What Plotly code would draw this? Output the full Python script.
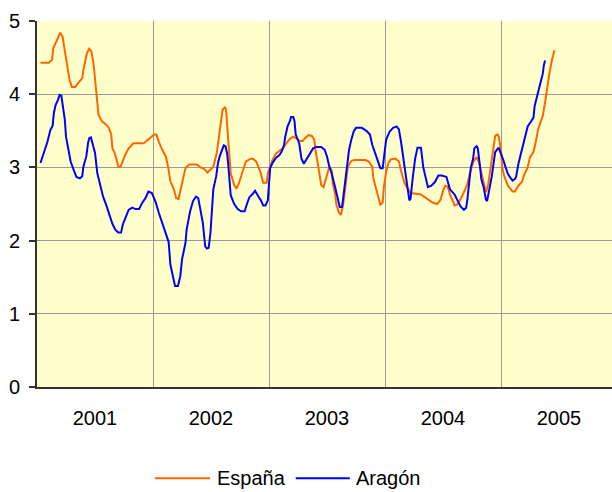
import numpy as np
import plotly.graph_objects as go

# time axis in years measured from the start of 2001
espana_t = [
    0.03, 0.10, 0.13, 0.14, 0.17, 0.19, 0.20, 0.22,
    0.24, 0.26, 0.28, 0.30, 0.33, 0.36, 0.39, 0.40,
    0.415, 0.43, 0.45, 0.47, 0.49, 0.50, 0.52, 0.53,
    0.56, 0.60, 0.62, 0.64, 0.65, 0.67, 0.69, 0.70,
    0.72, 0.74, 0.76, 0.79, 0.83, 0.86, 0.92, 0.96,
    1.01, 1.03, 1.05, 1.08, 1.11, 1.13, 1.15, 1.18,
    1.20, 1.22, 1.24, 1.26, 1.28, 1.31, 1.38, 1.41,
    1.44, 1.47, 1.49, 1.52, 1.55, 1.57, 1.58, 1.60,
    1.62, 1.63, 1.64, 1.65, 1.67, 1.70, 1.72, 1.74,
    1.76, 1.78, 1.80, 1.83, 1.86, 1.89, 1.91, 1.93,
    1.95, 1.98, 1.99, 2.01, 2.03, 2.06, 2.09, 2.12,
    2.15, 2.18, 2.21, 2.24, 2.27, 2.29, 2.31, 2.34,
    2.37, 2.39, 2.40, 2.42, 2.44, 2.45, 2.47, 2.49,
    2.51, 2.52, 2.54, 2.55, 2.57, 2.58, 2.60, 2.62,
    2.64, 2.66, 2.68, 2.71, 2.74, 2.83, 2.86, 2.89,
    2.90, 2.92, 2.94, 2.96, 2.98, 2.99, 3.01, 3.03,
    3.05, 3.09, 3.12, 3.14, 3.17, 3.20, 3.22, 3.31,
    3.37, 3.41, 3.45, 3.48, 3.50, 3.52, 3.54, 3.56,
    3.58, 3.60, 3.62, 3.65, 3.68, 3.71, 3.73, 3.76,
    3.79, 3.81, 3.83, 3.85, 3.87, 3.89, 3.91, 3.93,
    3.95, 3.97, 3.98, 4.00, 4.01, 4.03, 4.06, 4.10,
    4.12, 4.15, 4.18, 4.20, 4.23, 4.25, 4.28, 4.30,
    4.32, 4.35, 4.36, 4.38, 4.40, 4.42, 4.44, 4.46,
]
espana = [
    4.43, 4.43, 4.47, 4.63, 4.73, 4.81, 4.84, 4.79,
    4.60, 4.40, 4.20, 4.10, 4.10, 4.16, 4.22, 4.33,
    4.47, 4.56, 4.62, 4.58, 4.38, 4.20, 3.83, 3.72,
    3.63, 3.58, 3.54, 3.45, 3.26, 3.20, 3.08, 3.01,
    3.01, 3.10, 3.17, 3.26, 3.33, 3.33, 3.33, 3.38,
    3.45, 3.45, 3.35, 3.24, 3.15, 3.01, 2.81, 2.70,
    2.58, 2.57, 2.72, 2.83, 2.99, 3.04, 3.04, 3.00,
    2.98, 2.93, 2.96, 3.01, 3.20, 3.42, 3.60, 3.79,
    3.82, 3.79, 3.56, 3.29, 2.92, 2.76, 2.71, 2.78,
    2.89, 2.99, 3.08, 3.11, 3.12, 3.08, 2.99, 2.92,
    2.79, 2.79, 2.92, 3.01, 3.10, 3.19, 3.22, 3.26,
    3.33, 3.39, 3.42, 3.39, 3.36, 3.36, 3.40, 3.44,
    3.43, 3.38, 3.24, 3.06, 2.87, 2.76, 2.73, 2.85,
    2.99, 3.01, 2.96, 2.78, 2.64, 2.50, 2.39, 2.35,
    2.50, 2.73, 3.01, 3.09, 3.10, 3.10, 3.08, 3.01,
    2.85, 2.73, 2.59, 2.49, 2.52, 2.73, 2.94, 3.06,
    3.11, 3.12, 3.08, 2.94, 2.78, 2.69, 2.65, 2.63,
    2.56, 2.52, 2.50, 2.56, 2.68, 2.75, 2.74, 2.63,
    2.56, 2.48, 2.49, 2.56, 2.66, 2.77, 2.91, 3.07,
    3.14, 3.07, 2.93, 2.77, 2.66, 2.77, 3.00, 3.19,
    3.43, 3.45, 3.42, 3.24, 3.00, 2.87, 2.75, 2.67,
    2.67, 2.75, 2.80, 2.90, 3.00, 3.14, 3.21, 3.35,
    3.52, 3.66, 3.70, 3.89, 4.12, 4.31, 4.47, 4.60,
]

aragon_t = [
    0.03, 0.06, 0.09, 0.115, 0.135, 0.145, 0.16, 0.18,
    0.195, 0.21, 0.225, 0.24, 0.25, 0.27, 0.29, 0.32,
    0.34, 0.37, 0.39, 0.40, 0.425, 0.44, 0.45, 0.465,
    0.48, 0.50, 0.52, 0.55, 0.57, 0.60, 0.63, 0.65,
    0.675, 0.70, 0.725, 0.74, 0.76, 0.79, 0.82, 0.85,
    0.88, 0.905, 0.935, 0.96, 0.99, 1.02, 1.05, 1.08,
    1.105, 1.135, 1.15, 1.17, 1.19, 1.215, 1.235, 1.25,
    1.28, 1.29, 1.32, 1.345, 1.37, 1.39, 1.41, 1.43,
    1.44, 1.45, 1.465, 1.48, 1.495, 1.51, 1.52, 1.545,
    1.56, 1.575, 1.595, 1.61, 1.625, 1.64, 1.65, 1.66,
    1.67, 1.70, 1.73, 1.76, 1.79, 1.81, 1.83, 1.86,
    1.88, 1.91, 1.93, 1.95, 1.97, 1.99, 2.00, 2.01,
    2.03, 2.06, 2.09, 2.11, 2.13, 2.14, 2.16, 2.18,
    2.19, 2.21, 2.22, 2.23, 2.26, 2.28, 2.30, 2.32,
    2.35, 2.38, 2.41, 2.45, 2.48, 2.50, 2.52, 2.54,
    2.57, 2.59, 2.61, 2.63, 2.64, 2.66, 2.68, 2.69,
    2.71, 2.73, 2.75, 2.80, 2.84, 2.87, 2.89, 2.91,
    2.94, 2.96, 2.98, 2.99, 3.01, 3.04, 3.07, 3.10,
    3.12, 3.14, 3.16, 3.18, 3.20, 3.21, 3.22, 3.24,
    3.26, 3.28, 3.31, 3.33, 3.35, 3.37, 3.40, 3.43,
    3.46, 3.49, 3.53, 3.54, 3.56, 3.60, 3.62, 3.65,
    3.68, 3.70, 3.71, 3.73, 3.74, 3.76, 3.77, 3.79,
    3.80, 3.82, 3.83, 3.85, 3.87, 3.88, 3.90, 3.92,
    3.94, 3.95, 3.98, 4.00, 4.02, 4.04, 4.06, 4.08,
    4.10, 4.12, 4.13, 4.15, 4.17, 4.19, 4.21, 4.23,
    4.26, 4.28, 4.29, 4.31, 4.33, 4.35, 4.36, 4.37,
    4.38,
]
aragon = [
    3.06, 3.20, 3.35, 3.51, 3.57, 3.74, 3.85, 3.92,
    3.99, 3.98, 3.81, 3.65, 3.42, 3.24, 3.08, 2.95,
    2.87, 2.85, 2.88, 3.01, 3.15, 3.33, 3.40, 3.41,
    3.33, 3.20, 2.92, 2.74, 2.60, 2.47, 2.33, 2.23,
    2.15, 2.11, 2.11, 2.22, 2.30, 2.42, 2.45, 2.43,
    2.43, 2.51, 2.58, 2.67, 2.65, 2.54, 2.38, 2.24,
    2.10, 1.98, 1.67, 1.51, 1.38, 1.38, 1.51, 1.74,
    1.97, 2.15, 2.40, 2.54, 2.60, 2.58, 2.40, 2.24,
    2.08, 1.92, 1.89, 1.90, 2.10, 2.42, 2.70, 2.88,
    3.06, 3.15, 3.24, 3.30, 3.29, 3.18, 3.01, 2.82,
    2.62, 2.50, 2.43, 2.40, 2.40, 2.50, 2.59, 2.64,
    2.68, 2.60, 2.55, 2.48, 2.48, 2.55, 2.82, 2.99,
    3.06, 3.13, 3.17, 3.22, 3.31, 3.42, 3.56, 3.63,
    3.69, 3.69, 3.63, 3.45, 3.33, 3.12, 3.05, 3.10,
    3.17, 3.26, 3.28, 3.28, 3.24, 3.15, 3.01, 2.92,
    2.73, 2.59, 2.46, 2.46, 2.59, 2.82, 3.06, 3.24,
    3.38, 3.49, 3.54, 3.54, 3.50, 3.45, 3.31, 3.22,
    3.10, 2.99, 2.99, 3.10, 3.38, 3.49, 3.54, 3.56,
    3.52, 3.33, 3.08, 2.85, 2.66, 2.55, 2.57, 2.87,
    3.12, 3.27, 3.27, 3.00, 2.87, 2.73, 2.75, 2.80,
    2.89, 2.89, 2.87, 2.82, 2.70, 2.63, 2.56, 2.47,
    2.42, 2.45, 2.56, 2.82, 3.00, 3.12, 3.26, 3.29,
    3.26, 3.00, 2.84, 2.73, 2.56, 2.54, 2.70, 2.87,
    3.10, 3.21, 3.27, 3.19, 3.10, 3.00, 2.91, 2.86,
    2.82, 2.84, 2.87, 3.05, 3.17, 3.28, 3.42, 3.56,
    3.63, 3.68, 3.84, 3.96, 4.10, 4.21, 4.28, 4.40,
    4.46,
]

years = [2001, 2002, 2003, 2004, 2005]

FONT = "Liberation Sans, Arial, sans-serif"
GRID = "#9a9a9a"
ORANGE = "#FF6600"
BLUE = "#0000FF"

fig = go.Figure()

fig.add_trace(go.Scatter(
    x=np.array(espana_t) + years[0], y=espana,
    mode="lines", name="España",
    line=dict(color=ORANGE, width=2),
))
fig.add_trace(go.Scatter(
    x=np.array(aragon_t) + years[0], y=aragon,
    mode="lines", name="Aragón",
    line=dict(color=BLUE, width=2),
))

fig.update_layout(
    width=612, height=492,
    margin=dict(l=37, r=0, t=21, b=105, autoexpand=False),
    paper_bgcolor="white",
    plot_bgcolor="#FFFFCC",
    font=dict(family=FONT, size=20, color="black"),
    showlegend=False,
)

# legend drawn by hand so the line samples are as long as in the original
legend_y = -0.249
for x0, x1, color, label in [(0.205, 0.301, ORANGE, "España"),
                             (0.450, 0.544, BLUE, "Aragón")]:
    fig.add_shape(type="line", xref="paper", yref="paper",
                  x0=x0, x1=x1, y0=legend_y, y1=legend_y,
                  line=dict(color=color, width=2))
    fig.add_annotation(xref="paper", yref="paper", x=x1 + 0.008, y=legend_y,
                       text=label, showarrow=False, xanchor="left", yanchor="middle",
                       font=dict(size=20, color="black"))

fig.update_xaxes(
    range=[years[0], years[0] + 575 / 116],
    tickmode="array",
    tickvals=[y + 0.5 for y in years],
    ticktext=[str(y) for y in years],
    ticks="",
    ticklabelstandoff=12,
    automargin=False,
    showgrid=False,
    minor=dict(tickvals=years[1:], showgrid=True, gridcolor=GRID, gridwidth=1, ticks=""),
    showline=True, linecolor="#333333", linewidth=2,
    zeroline=False,
)
fig.update_yaxes(
    range=[0, 5],
    tickvals=[0, 1, 2, 3, 4, 5],
    ticks="outside", ticklen=6, tickwidth=2, tickcolor="#333333",
    ticklabelstandoff=5,
    automargin=False,
    showgrid=True, gridcolor=GRID, gridwidth=1,
    showline=True, linecolor="#333333", linewidth=2,
    zeroline=False,
)

# the page body has a default 8px margin; drop it so the figure sits at the corner
fig.write_html("out.html", config={"displayModeBar": False},
               post_script="document.body.style.margin='0';")
